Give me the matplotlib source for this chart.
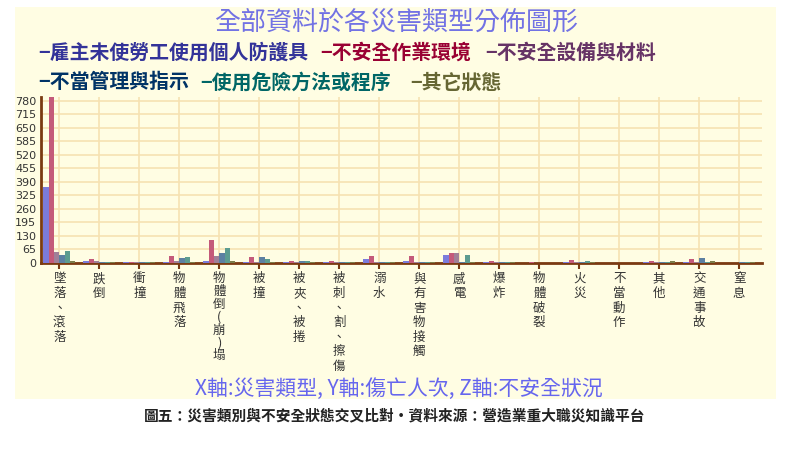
import matplotlib
matplotlib.use("Agg")
import matplotlib.pyplot as plt
import numpy as np

plt.rcParams['font.family'] = ['Noto Sans CJK TC', 'DejaVu Sans']

categories = ["墜落、滾落", "跌倒", "衝撞", "物體飛落", "物體倒(崩)塌", "被撞", "被夾、被捲",
              "被刺、割、擦傷", "溺水", "與有害物接觸", "感電", "爆炸", "物體破裂", "火災",
              "不當動作", "其他", "交通事故", "窒息"]
series_names = ["雇主未使勞工使用個人防護具", "不安全作業環境", "不安全設備與材料",
                "不當管理與指示", "使用危險方法或程序", "其它狀態"]
s_ppe      = [365, 8, 3, 5, 10, 4, 1, 1, 16, 6, 35, 1, 0, 2, 0, 1, 1, 0]
s_env      = [796, 16, 1, 34, 109, 29, 10, 7, 32, 31, 49, 7, 1, 13, 0, 6, 16, 0]
s_equip    = [50, 8, 1, 10, 31, 5, 2, 1, 2, 1, 48, 1, 0, 2, 0, 1, 2, 0]
s_mgmt     = [39, 3, 2, 24, 48, 26, 8, 2, 5, 1, 3, 2, 0, 3, 0, 2, 21, 1]
s_method   = [58, 2, 4, 29, 73, 16, 9, 3, 2, 1, 39, 3, 0, 10, 0, 2, 4, 1]
s_other    = [8, 2, 1, 5, 6, 4, 3, 1, 1, 1, 2, 1, 0, 1, 0, 6, 9, 1]
yticks = list(range(0, 781, 65))

series = [s_ppe, s_env, s_equip, s_mgmt, s_method, s_other]
bar_colors = ["#7b7bdc", "#c45a7a", "#a08098", "#5c80a2", "#5c9c90", "#7c7c48"]
text_colors = ["#333399", "#990033", "#663366", "#003366", "#006666", "#666633"]

W, H = 800, 453
fig = plt.figure(figsize=(W / 100, H / 100), dpi=100)
fig.patch.set_facecolor("white")

panel_bg = "#FFFDE3"
fig.patches.append(plt.Rectangle((15 / W, 1 - 399 / H), (776 - 15) / W, (399 - 7) / H,
                                 transform=fig.transFigure, facecolor=panel_bg,
                                 edgecolor="none", zorder=-5))

ax_left, ax_right = 40.5, 762
ax_bottom, ax_top = 262.7, 97.4
ax = fig.add_axes([ax_left / W, 1 - ax_bottom / H, (ax_right - ax_left) / W, (ax_bottom - ax_top) / H])
ax.set_zorder(2)
ax.set_facecolor(panel_bg)

x = np.arange(len(categories))
bw = 0.8 / 6
for i, (vals, col) in enumerate(zip(series, bar_colors)):
    ax.bar(x + (i - 2.5) * bw, vals, width=bw, color=col, zorder=3, linewidth=0)

ax.set_xlim(-0.47, 17.57)
ax.set_ylim(0, 796)
ax.set_yticks(yticks)
ax.set_yticklabels([str(v) for v in yticks], fontsize=8, color="#333333",
                   family=['DejaVu Sans'])
ax.set_xticks(x)
labels = ax.set_xticklabels(["\n".join(c) for c in categories], fontsize=9, color="#333333",
                            linespacing=1.16, va="top")
for lab, cat in zip(labels, categories):
    if "(" in cat:
        lab.set_linespacing(0.98)
ax.grid(True, color="#F6E2B2", linewidth=1.2, zorder=1)
ax.set_axisbelow(True)

brown = "#7A3A12"
for s in ["top", "right"]:
    ax.spines[s].set_visible(False)
ax.spines["bottom"].set_color(brown)
ax.spines["bottom"].set_linewidth(2)
ax.spines["left"].set_color(brown)
ax.spines["left"].set_linewidth(2)
ax.tick_params(axis="x", colors=brown, length=4, width=1.5, pad=3, labelcolor="#333333")
ax.tick_params(axis="y", length=0, pad=3, labelcolor="#333333")

def fx(px):
    return px / W

def fy(py):
    return 1 - py / H

fig.text(fx(396), fy(22), "全部資料於各災害類型分佈圖形", fontsize=18.7, color="#7272e4",
         ha="center", va="center")

legend_pos = [(38, 52), (320, 52), (485, 52), (38, 82), (200, 82), (410, 82)]
for (px, py), name, col in zip(legend_pos, series_names, text_colors):
    fig.text(fx(px), fy(py), "−" + name, fontsize=14.3, color=col, fontweight="bold",
             ha="left", va="center", family=['Noto Sans CJK TC', 'DejaVu Sans'])

fig.text(fx(399), fy(389), "X軸:災害類型, Y軸:傷亡人次, Z軸:不安全狀況", fontsize=15,
         color="#6666ee", ha="center", va="center")

fig.text(fx(395), fy(415), "圖五：災害類別與不安全狀態交叉比對‧資料來源：營造業重大職災知識平台",
         fontsize=10.6, color="#222222", fontweight="bold", ha="center", va="center",
         family=['Noto Sans CJK TC', 'DejaVu Sans'])

fig.savefig("out.png", dpi=100, facecolor=fig.get_facecolor())
